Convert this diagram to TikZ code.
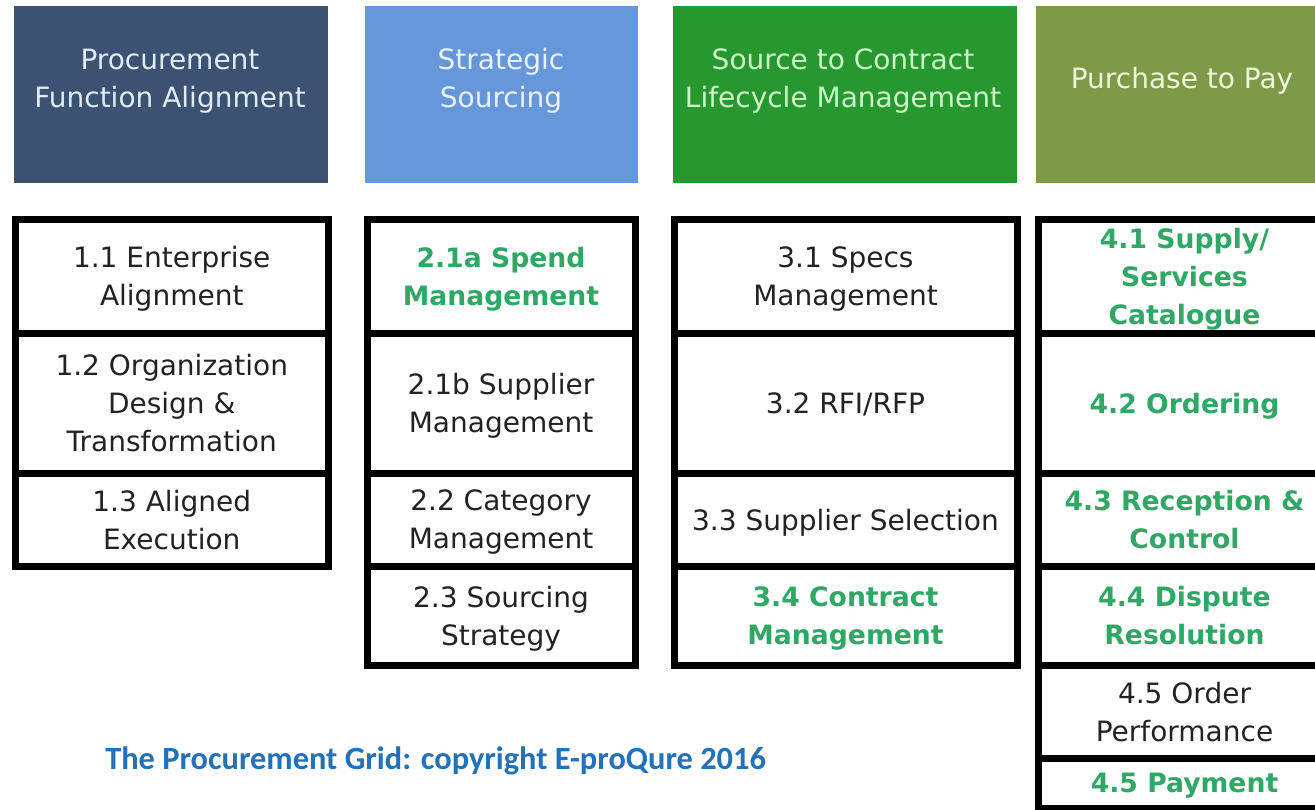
\documentclass[tikz,border=0pt]{standalone}
\usepackage{fontspec}
\setmainfont{DejaVu Sans}
\newfontfamily\capfont{Carlito}
\definecolor{hA}{HTML}{3B5272}
\definecolor{hB}{HTML}{6597DA}
\definecolor{hC}{HTML}{27972F}
\definecolor{hD}{HTML}{7C9A48}
\definecolor{tA}{HTML}{E2EAF3}
\definecolor{tB}{HTML}{EAF2FF}
\definecolor{tC}{HTML}{CDF5C8}
\definecolor{tD}{HTML}{F2F4DA}
\definecolor{gtxt}{HTML}{2FA866}
\definecolor{btxt}{HTML}{222222}
\definecolor{captc}{HTML}{2371B9}
\begin{document}
\begin{tikzpicture}[x=0.75pt,y=-0.75pt,
  cell/.style={draw=black, line width=5.25pt, fill=white, inner sep=0pt, align=center,
    text depth=0pt, font=\fontsize{21}{28.5}\selectfont, text=btxt},
  gcell/.style={cell, font=\fontsize{20}{28.5}\selectfont\bfseries, text=gtxt},
  colA/.style={minimum width=234.4pt},
  colB/.style={minimum width=201pt},
  colC/.style={minimum width=257.25pt},
  colD/.style={minimum width=219.75pt},
  rowA/.style={minimum height=85.5pt},
  rowB/.style={minimum height=105pt},
  rowC/.style={minimum height=69.75pt},
  rowD/.style={minimum height=74.25pt},
  rowE/.style={minimum height=69.75pt},
  rowF/.style={minimum height=37.5pt},
  head/.style={draw=none, inner sep=0pt, minimum height=132.75pt},
  htxt/.style={align=center, inner sep=0pt, text depth=0pt, font=\fontsize{21}{28.5}\selectfont},
]
\useasboundingbox (0,0) rectangle (1315,810);
\clip (0,0) rectangle (1315,810);
\fill[white] (0,0) rectangle (1315,810);

% headers
\node[head, fill=hA, minimum width=235.5pt] (h1) at (171,94.5) {};
\node[head, fill=hB, minimum width=204.75pt] (h2) at (501.5,94.5) {};
\node[head, fill=hC, minimum width=258pt] (h3) at (845,94.5) {};
\node[head, fill=hD, minimum width=228pt] (h4) at (1188,94.5) {};
\node[htxt, text=tA] (h1t) at (170,78) {Procurement\\Function Alignment};
\node[htxt, text=tB] (h2t) at (501,78) {Strategic\\Sourcing};
\node[htxt, text=tC] (h3t) at (843,78) {Source to Contract\\Lifecycle Management};
\node[htxt, text=tD] (h4t) at (1182,78) {Purchase to Pay};

% column 1
\node[cell, colA, rowA] (c11) at (171.75,276) {1.1 Enterprise\\Alignment};
\node[cell, colA, rowB] (c12) at (171.75,403) {1.2 Organization\\Design \&\\Transformation};
\node[cell, colA, rowC] (c13) at (171.75,519.5) {1.3 Aligned\\Execution};

% column 2
\node[gcell, colB, rowA] (c21a) at (501,276) {2.1a Spend\\Management};
\node[cell, colB, rowB] (c21b) at (501,403) {2.1b Supplier\\Management};
\node[cell, colB, rowC] (c22) at (501,519.5) {2.2 Category\\Management};
\node[cell, colB, rowD] (c23) at (501,615.5) {2.3 Sourcing\\Strategy};

% column 3
\node[cell, colC, rowA] (c31) at (845.5,276) {3.1 Specs\\Management};
\node[cell, colC, rowB] (c32) at (845.5,403) {3.2 RFI/RFP};
\node[cell, colC, rowC] (c33) at (845.5,519.5) {3.3 Supplier Selection};
\node[gcell, colC, rowD] (c34) at (845.5,615.5) {3.4 Contract\\Management};

% column 4
\node[gcell, colD, rowA] (c41) at (1184.5,276) {4.1 Supply/\\Services\\Catalogue};
\node[gcell, colD, rowB] (c42) at (1184.5,403) {4.2 Ordering};
\node[gcell, colD, rowC] (c43) at (1184.5,519.5) {4.3 Reception \&\\Control};
\node[gcell, colD, rowD] (c44) at (1184.5,615.5) {4.4 Dispute\\Resolution};
\node[cell, colD, rowE] (c45) at (1184.5,711.5) {4.5 Order\\Performance};
\node[gcell, colD, rowF] (c46) at (1184.5,783) {4.5 Payment};

% caption
\node[anchor=base west, inner sep=0pt, text=captc,
  font=\capfont\bfseries\fontsize{24.3}{28}\selectfont] (cap) at (105,769)
  {The Procurement Grid: copyright E-proQure 2016};
\end{tikzpicture}
\end{document}
